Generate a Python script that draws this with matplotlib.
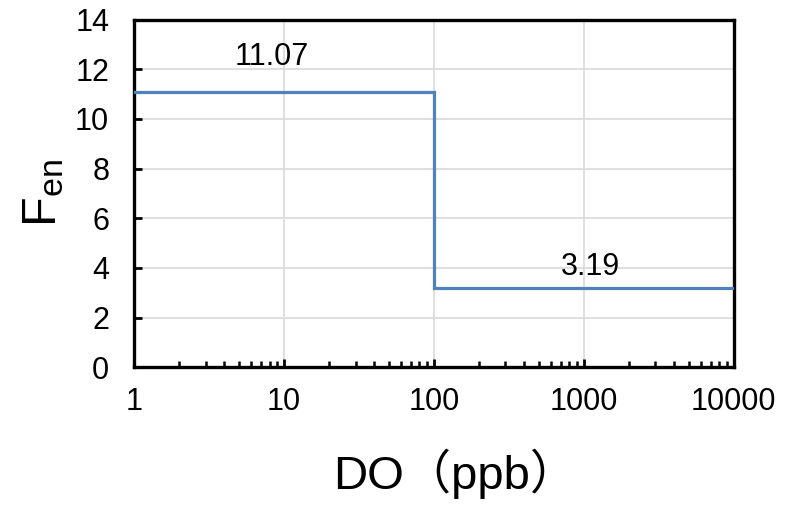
import matplotlib
matplotlib.use("Agg")
import matplotlib.pyplot as plt
from matplotlib.ticker import FixedLocator, LogLocator, NullFormatter, FixedFormatter

plt.rcParams['font.family'] = ['Liberation Sans', 'Noto Sans CJK SC', 'DejaVu Sans']
plt.rcParams['mathtext.fontset'] = 'custom'
plt.rcParams['mathtext.rm'] = 'Liberation Sans'
plt.rcParams['mathtext.it'] = 'Liberation Sans'

# Data
do_edges = [1, 100, 100, 10000]
fen_values = [11.07, 11.07, 3.19, 3.19]
labels = ["11.07", "3.19"]
label_x = [8.3, 1100]
label_y = [12.5, 4.05]
x_ticks = [1, 10, 100, 1000, 10000]
x_tick_labels = ["1", "10", "100", "1000", "10000"]
y_ticks = [0, 2, 4, 6, 8, 10, 12, 14]

fig = plt.figure(figsize=(7.89, 5.05), dpi=100)
ax = fig.add_axes([0.170, 0.273, 0.760, 0.688])

ax.plot(do_edges, fen_values, color='#4F81BD', linewidth=2.3, solid_joinstyle='miter', zorder=3)

for t, x, y in zip(labels, label_x, label_y):
    ax.text(x, y, t, fontsize=22, ha='center', va='center')

ax.set_xscale('log')
ax.set_xlim(1, 10000)
ax.set_ylim(0, 14)
ax.xaxis.set_major_locator(FixedLocator(x_ticks))
ax.xaxis.set_major_formatter(FixedFormatter(x_tick_labels))
ax.xaxis.set_minor_locator(LogLocator(base=10, subs=range(2, 10)))
ax.xaxis.set_minor_formatter(NullFormatter())
ax.set_yticks(y_ticks)

ax.grid(True, which='major', color='#D9D9D9', linewidth=1.2, zorder=0)
ax.set_axisbelow(True)

for s in ax.spines.values():
    s.set_linewidth(2.4)
    s.set_color('black')

ax.tick_params(axis='both', which='major', direction='in', length=6, width=2,
               labelsize=22, top=False, right=False)
ax.tick_params(axis='y', which='major', pad=18)
ax.tick_params(axis='x', which='minor', direction='in', length=4, width=1.8, top=False)
ax.tick_params(axis='x', which='major', pad=14)

ax.set_xlabel('DO（ppb）', fontsize=34, labelpad=23)
ax.xaxis.label.set_x(0.535)
ax.set_ylabel(r'$\mathregular{F_{en}}$', fontsize=35, labelpad=6)

fig.savefig('out.png', dpi=100)
